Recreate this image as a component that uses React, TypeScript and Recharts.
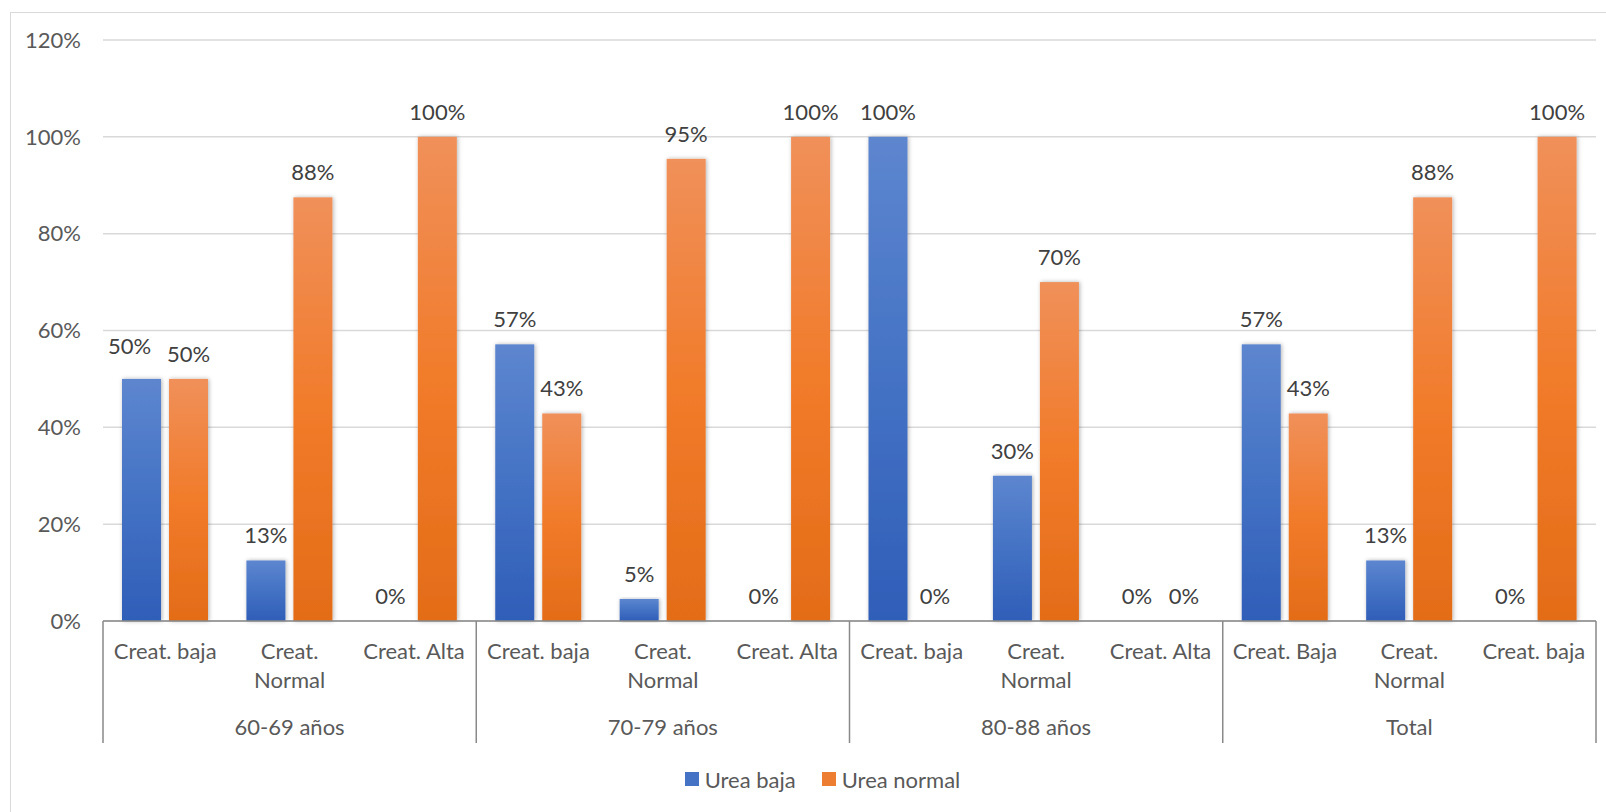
import React from 'react';
import { BarChart, Bar, XAxis, YAxis, CartesianGrid, Legend, LabelList } from 'recharts';

const categories = [
  'Creat. baja', 'Creat. Normal', 'Creat. Alta',
  'Creat. baja', 'Creat. Normal', 'Creat. Alta',
  'Creat. baja', 'Creat. Normal', 'Creat. Alta',
  'Creat. Baja', 'Creat. Normal', 'Creat. baja',
];
const groups = ['60-69 años', '70-79 años', '80-88 años', 'Total'];
const seriesNames = ['Urea baja', 'Urea normal'];
const ureaBaja = [50, 12.5, 0, 57.14, 4.55, 0, 100, 30, 0, 57.14, 12.5, 0];
const ureaNormal = [50, 87.5, 100, 42.86, 95.45, 100, 0, 70, 0, 42.86, 87.5, 100];
const yTicks = [0, 20, 40, 60, 80, 100, 120];

const data = categories.map((cat, i) => ({
  cat,
  group: groups[Math.floor(i / 3)],
  baja: ureaBaja[i],
  normal: ureaNormal[i],
}));

const FONT = 'Lato, "Open Sans", sans-serif';
const FS = 22;
const TEXT = '#595959';
const BLUE = '#4472C4';
const ORANGE = '#ED7D31';

const pct = (v: number) => `${Math.round(v)}%`;

// the first blue label was dragged a bit in the original
const bajaNudge: Record<number, [number, number]> = { 0: [-12, -8] };

// long labels break after the first word, like excel does in a narrow slot
const wrapLabel = (s: string) => {
  if (s.length <= 11) return [s];
  const i = s.indexOf(' ');
  return [s.slice(0, i), s.slice(i + 1)];
};

const CategoryTick = (props: any) => {
  const { x, y, payload, index, width, visibleTicksCount } = props;
  const band = width && visibleTicksCount ? width / visibleTicksCount : 124.4;
  const last = index === (visibleTicksCount ?? 12) - 1;
  const lines = wrapLabel(String(payload.value));
  return (
    <g>
      <text x={x} y={y + 38} textAnchor="middle" fontSize={FS} fontFamily={FONT} fill={TEXT}>
        {lines.map((ln, i) => (
          <tspan key={i} x={x} dy={i === 0 ? 0 : 29}>
            {ln}
          </tspan>
        ))}
      </text>
      {index % 3 === 0 && (
        <line x1={x - band / 2} x2={x - band / 2} y1={y} y2={y + 122} stroke="#898989" strokeWidth={1.5} />
      )}
      {last && (
        <line x1={x + band / 2} x2={x + band / 2} y1={y} y2={y + 122} stroke="#898989" strokeWidth={1.5} />
      )}
    </g>
  );
};

const GroupTick = (props: any) => {
  const { x, y, payload, index } = props;
  if (index % 3 !== 1) return <g />;
  return (
    <text x={x} y={y + 36} textAnchor="middle" fontSize={FS} fontFamily={FONT} fill={TEXT}>
      {payload.value}
    </text>
  );
};

const makeLabel = (nudge: Record<number, [number, number]> = {}) => (props: any) => {
  const { x, y, width, value, index } = props;
  const [dx, dy] = nudge[index] ?? [0, 0];
  return (
    <text x={x + width / 2 + dx} y={y - 17 + dy} textAnchor="middle" fontSize={FS} fontFamily={FONT} fill="#404040">
      {pct(value)}
    </text>
  );
};

const ShadowBar = (props: any) => {
  const { x, y, width, height, fill } = props;
  if (!height || height <= 0) return <g />;
  return <rect x={x} y={y} width={width} height={height} fill={fill} filter="url(#barShadow)" />;
};

const renderLegend = () => (
  <div
    style={{
      display: 'flex',
      justifyContent: 'center',
      alignItems: 'center',
      height: 30,
      paddingLeft: 36,
      fontFamily: FONT,
      fontSize: FS,
      color: TEXT,
    }}
  >
    {seriesNames.map((name, i) => (
      <span key={name} style={{ display: 'flex', alignItems: 'center', marginRight: i === 0 ? 26 : 0 }}>
        <span style={{ width: 14, height: 14, background: i === 0 ? BLUE : ORANGE, marginRight: 6 }} />
        {name}
      </span>
    ))}
  </div>
);

export default function App() {
  return (
    <div style={{ position: 'fixed', left: 0, top: 0, width: 1606, height: 812, overflow: 'hidden', background: '#fff' }}>
      <svg width={0} height={0} style={{ position: 'absolute' }}>
        <defs>
          <linearGradient id="gradBlue" x1="0" y1="0" x2="0" y2="1">
            <stop offset="0%" stopColor="#5D86CF" />
            <stop offset="50%" stopColor="#4472C4" />
            <stop offset="100%" stopColor="#2F5EB8" />
          </linearGradient>
          <linearGradient id="gradOrange" x1="0" y1="0" x2="0" y2="1">
            <stop offset="0%" stopColor="#F0905A" />
            <stop offset="50%" stopColor="#F17B2A" />
            <stop offset="100%" stopColor="#E36C18" />
          </linearGradient>
          <filter id="barShadow" x="-20%" y="-5%" width="140%" height="110%">
            <feDropShadow dx="1" dy="0" stdDeviation="2" floodColor="#000" floodOpacity="0.3" />
          </filter>
        </defs>
      </svg>
      <div
        style={{
          position: 'absolute',
          left: 10,
          top: 12,
          width: 1620,
          height: 820,
          border: '1.5px solid #d9d9d9',
        }}
      />
      <div style={{ position: 'absolute', left: 0, top: 0 }}>
        <BarChart
          width={1606}
          height={812}
          data={data}
          margin={{ top: 40, right: 10, left: 13, bottom: 18 }}
          barSize={39}
          barGap={8}
        >
          <CartesianGrid vertical={false} stroke="#d9d9d9" strokeWidth={1.5} />
          <XAxis
            xAxisId="cat"
            dataKey="cat"
            interval={0}
            height={78}
            tickSize={0}
            tickMargin={0}
            tickLine={false}
            axisLine={{ stroke: '#898989', strokeWidth: 1.5 }}
            tick={<CategoryTick />}
          />
          <XAxis
            xAxisId="group"
            dataKey="group"
            interval={0}
            height={65}
            tickSize={0}
            tickMargin={0}
            tickLine={false}
            axisLine={false}
            tick={<GroupTick />}
          />
          <YAxis
            domain={[0, 120]}
            ticks={yTicks}
            tickFormatter={(v: number) => `${v}%`}
            axisLine={false}
            tickLine={false}
            tickSize={0}
            tickMargin={22}
            width={90}
            tick={{ fontSize: FS, fontFamily: FONT, fill: TEXT }}
          />
          <Legend verticalAlign="bottom" height={30} content={renderLegend} />
          <Bar xAxisId="cat" dataKey="baja" name={seriesNames[0]} fill="url(#gradBlue)" shape={<ShadowBar />} isAnimationActive={false}>
            <LabelList dataKey="baja" content={makeLabel(bajaNudge)} />
          </Bar>
          <Bar xAxisId="cat" dataKey="normal" name={seriesNames[1]} fill="url(#gradOrange)" shape={<ShadowBar />} isAnimationActive={false}>
            <LabelList dataKey="normal" content={makeLabel()} />
          </Bar>
        </BarChart>
      </div>
    </div>
  );
}
